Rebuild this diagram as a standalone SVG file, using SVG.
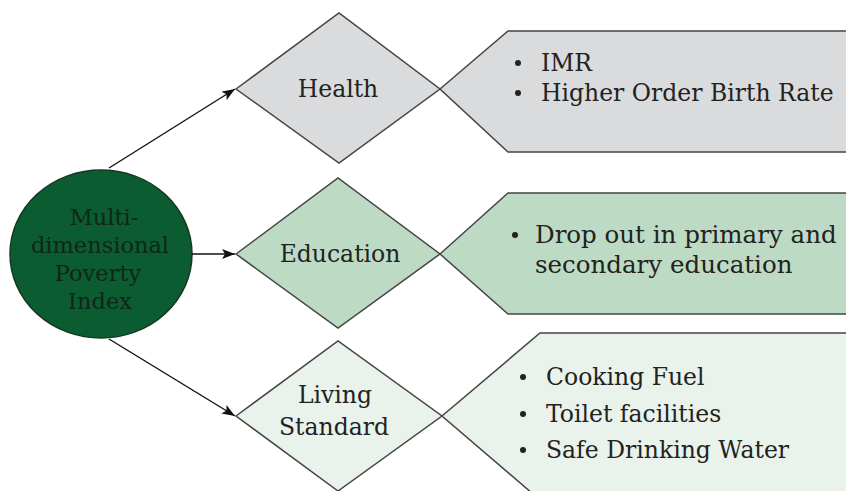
<svg xmlns="http://www.w3.org/2000/svg" width="846" height="491" viewBox="0 0 846 491">
<style>
  .t { font-family: "DejaVu Serif", "Liberation Serif", serif; font-size: 23.5px; fill: #222; }
  .e { font-size: 24.5px; }
  .m { font-size: 22.5px; fill: #10261a; }
  .c { text-anchor: middle; }
  .ln { stroke: #111; stroke-width: 1.4; fill: none; }
  .sh { stroke: #444; stroke-width: 1.5; }
  .gray { fill: #d9dbdd; }
  .green { fill: #bddbc4; }
  .pale { fill: #e9f2eb; }
  .b { fill: #222; }
</style>
<defs>
  <marker id="ah" markerWidth="14" markerHeight="10" refX="13" refY="5" orient="auto" markerUnits="userSpaceOnUse">
    <path d="M0,0 L13,5 L0,10 L3,5 Z" fill="#111"/>
  </marker>
</defs>
<g id="health-box">
  <polygon class="gray sh" points="440,89 508,31 850,31 850,152 508,152"/>
  <circle class="b" cx="518" cy="63" r="3"/>
  <text class="t" x="541" y="71">IMR</text>
  <circle class="b" cx="518" cy="93" r="3"/>
  <text class="t" x="541" y="101">Higher Order Birth Rate</text>
</g>
<g id="education-box">
  <polygon class="green sh" points="440,254 508,193 850,193 850,314 508,314"/>
  <circle class="b" cx="515" cy="235" r="3"/>
  <text class="t e" x="535" y="243">Drop out in primary and</text>
  <text class="t e" x="535" y="273">secondary education</text>
</g>
<g id="living-box">
  <polygon class="pale sh" points="442,416 540,333 850,333 850,500 540,500"/>
  <circle class="b" cx="523" cy="377" r="3"/>
  <text class="t" x="546" y="385">Cooking Fuel</text>
  <circle class="b" cx="523" cy="414" r="3"/>
  <text class="t" x="546" y="422">Toilet facilities</text>
  <circle class="b" cx="523" cy="450" r="3"/>
  <text class="t" x="546" y="458">Safe Drinking Water</text>
</g>
<g id="health">
  <polygon class="gray sh" points="236,89 339,13 440,89 339,163"/>
  <text class="t c" x="338" y="97">Health</text>
</g>
<g id="education">
  <polygon class="green sh" points="236,254 338,178 440,254 338,328"/>
  <text class="t c" x="340" y="262">Education</text>
</g>
<g id="living">
  <polygon class="pale sh" points="236,416 338,341 442,416 338,491"/>
  <text class="t c" x="335" y="403">Living</text>
  <text class="t c" x="334" y="435">Standard</text>
</g>
<g id="mpi">
  <ellipse cx="101" cy="254" rx="91" ry="84" fill="#0b5c30" stroke="#153a22" stroke-width="1.5"/>
  <text class="t m c" x="104" y="225">Multi-</text>
  <text class="t m c" x="100" y="253">dimensional</text>
  <text class="t m c" x="98" y="281">Poverty</text>
  <text class="t m c" x="100" y="309">Index</text>
</g>
<g id="connectors">
  <line class="ln" x1="109" y1="168" x2="235" y2="89" marker-end="url(#ah)"/>
  <line class="ln" x1="192" y1="254" x2="235" y2="254" marker-end="url(#ah)"/>
  <line class="ln" x1="109" y1="339" x2="235" y2="416" marker-end="url(#ah)"/>
</g>
</svg>
